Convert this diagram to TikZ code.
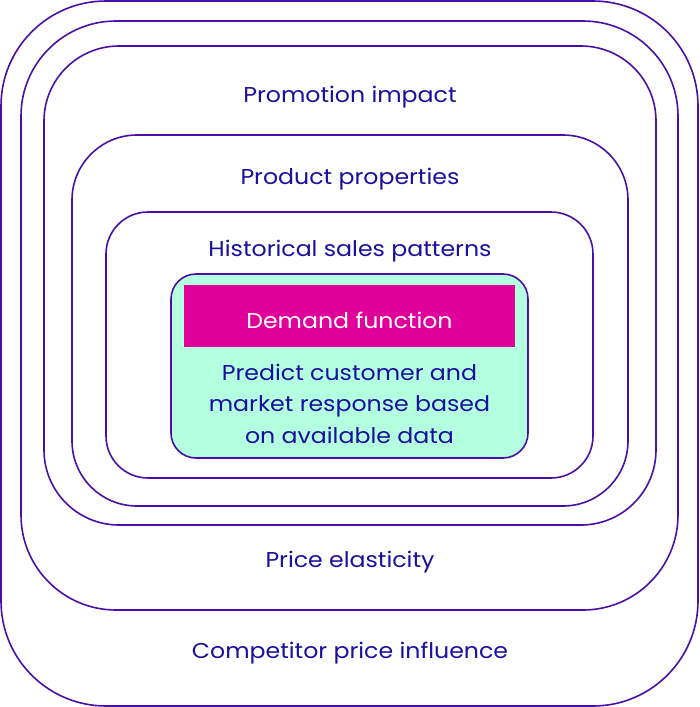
\documentclass[tikz,border=0pt]{standalone}
\usepackage{fontspec}
\setmainfont{Poppins}[FakeStretch=1.10]
\definecolor{linec}{HTML}{4A0FA6}
\definecolor{textc}{HTML}{1A0F9E}
\definecolor{magc}{HTML}{E0009A}
\definecolor{greenc}{HTML}{B3FFE0}
\begin{document}
\begin{tikzpicture}[x=1pt,y=-1pt,
  ring/.style={draw=linec,line width=1.6pt,inner sep=0pt},
  lbl/.style={text=textc,font=\fontsize{21.5}{25}\selectfont,inner sep=0pt},
]
\useasboundingbox (0,0) rectangle (699,707);
\draw[ring,rounded corners=105pt] (1,1) rectangle (698,706);
\draw[ring,rounded corners=95pt] (21,21) rectangle (678,610);
\draw[ring,rounded corners=75pt] (44,46) rectangle (656,525);
\draw[ring,rounded corners=65pt] (72,135) rectangle (628,506);
\draw[ring,rounded corners=42pt] (106,212) rectangle (593,478);
\draw[ring,fill=greenc,rounded corners=25pt] (171,274) rectangle (528,458);
\node[fill=magc,minimum width=331pt,minimum height=62pt,inner sep=0pt,anchor=north west] (df) at (184,285) {};
\node[text=white,font=\fontsize{21.5}{25}\selectfont] (dft) at (349.5,320) {Demand function};
\node[lbl,align=center,font=\fontsize{21.5}{31.5}\selectfont] (pred) at (349.5,403.5) {Predict customer and\\market response based\\on available data};
\node[lbl] (t1) at (350,97) {Promotion impact};
\node[lbl] (t2) at (350,179) {Product properties};
\node[lbl] (t3) at (350,251) {Historical sales patterns};
\node[lbl] (t4) at (350,562) {Price elasticity};
\node[lbl] (t5) at (350,653) {Competitor price influence};
\end{tikzpicture}
\end{document}
